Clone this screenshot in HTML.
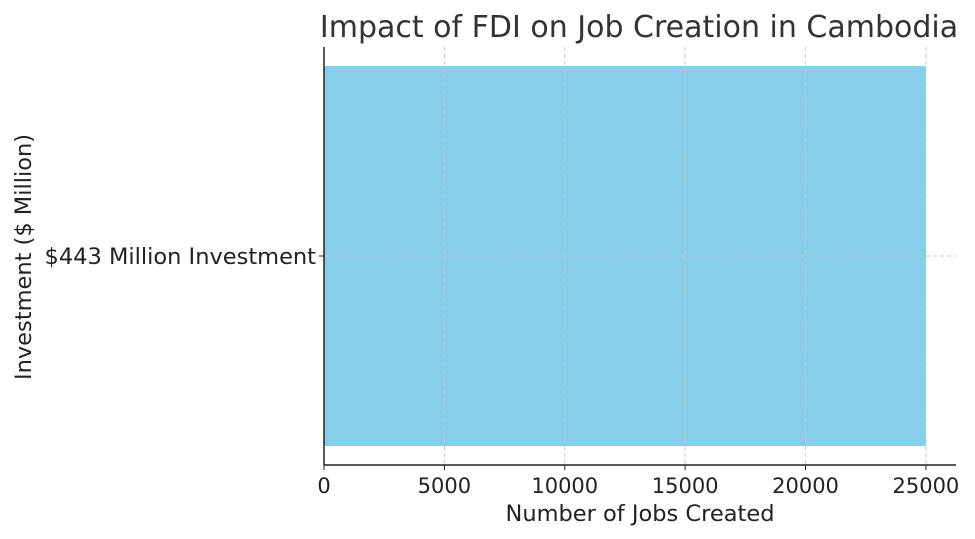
<!DOCTYPE html>
<html><head><meta charset="utf-8"><style>
html,body{margin:0;padding:0;background:#fff;}
svg{display:block;font-family:"DejaVu Sans","Liberation Sans",sans-serif;}
</style></head><body>
<svg id="chart" width="975" height="539" viewBox="0 0 975 539">
<text x="639" y="37" text-anchor="middle" font-size="30" fill="#333">Impact of FDI on Job Creation in Cambodia</text>
<g id="bars"></g>
<g id="grid"></g>
<g id="axes"></g>
<text x="640" y="521" text-anchor="middle" font-size="22.5" fill="#222">Number of Jobs Created</text>
<text transform="translate(31,257) rotate(-90)" text-anchor="middle" font-size="22.5" fill="#222">Investment ($ Million)</text>
</svg>
<script>
const categories = ["$443 Million Investment"];
const jobs = [25000];
const xTicks = [0, 5000, 10000, 15000, 20000, 25000];
const NS = "http://www.w3.org/2000/svg";
const L = 324, R = 956, T = 47, B = 465;
const xMax = Math.max(...jobs) * 1.05;
const x = v => L + v / xMax * (R - L);
const n = categories.length;
const yRange = n - 1 + 0.88;
const bandPx = (B - T) / yRange;
function mk(tag, attrs, parent) { const e = document.createElementNS(NS, tag); for (const k in attrs) e.setAttribute(k, attrs[k]); parent.appendChild(e); return e; }
const grid = document.getElementById('grid'), bars = document.getElementById('bars'), axes = document.getElementById('axes');
xTicks.forEach(t => {
  const g = mk('line', {x1: x(t), x2: x(t), y1: T, y2: B, stroke: '#c8c8c8', 'stroke-dasharray': '4,3', 'stroke-width': 1}, grid);
  
  
  const tk = mk('line', {x1: x(t), x2: x(t), y1: B, y2: B + 5, stroke: '#222', 'stroke-width': 1}, axes);
  
  
  const lb = mk('text', {x: x(t), y: B + 28, 'text-anchor': 'middle', 'font-size': 21, fill: '#222'}, axes);
  lb.textContent = t;
  
  
});
categories.forEach((c, i) => {
  const cy = T + (n - 1 - i + 0.44) / yRange * (B - T);
  const h = 0.8 * bandPx;
  const r = mk('rect', {x: x(0), y: cy - h / 2, width: x(jobs[i]) - x(0), height: h, fill: '#87ceeb'}, bars);
  
  
  const gl = mk('line', {x1: L, x2: R, y1: cy, y2: cy, stroke: '#c8c8c8', 'stroke-dasharray': '4,3', 'stroke-width': 1}, grid);
  
  
  const tk = mk('line', {x1: L - 5, x2: L, y1: cy, y2: cy, stroke: '#222', 'stroke-width': 1}, axes);
  
  
  const lb = mk('text', {x: L - 8, y: cy + 8, 'text-anchor': 'end', 'font-size': 22.5, fill: '#222'}, axes);
  lb.textContent = c;
  
  
});
const la = mk('line', {x1: L, x2: L, y1: T, y2: B, stroke: '#222', 'stroke-width': 1.5}, axes);


const ba = mk('line', {x1: L, x2: R, y1: B, y2: B, stroke: '#222', 'stroke-width': 1.5}, axes);


</script>
</body></html>
